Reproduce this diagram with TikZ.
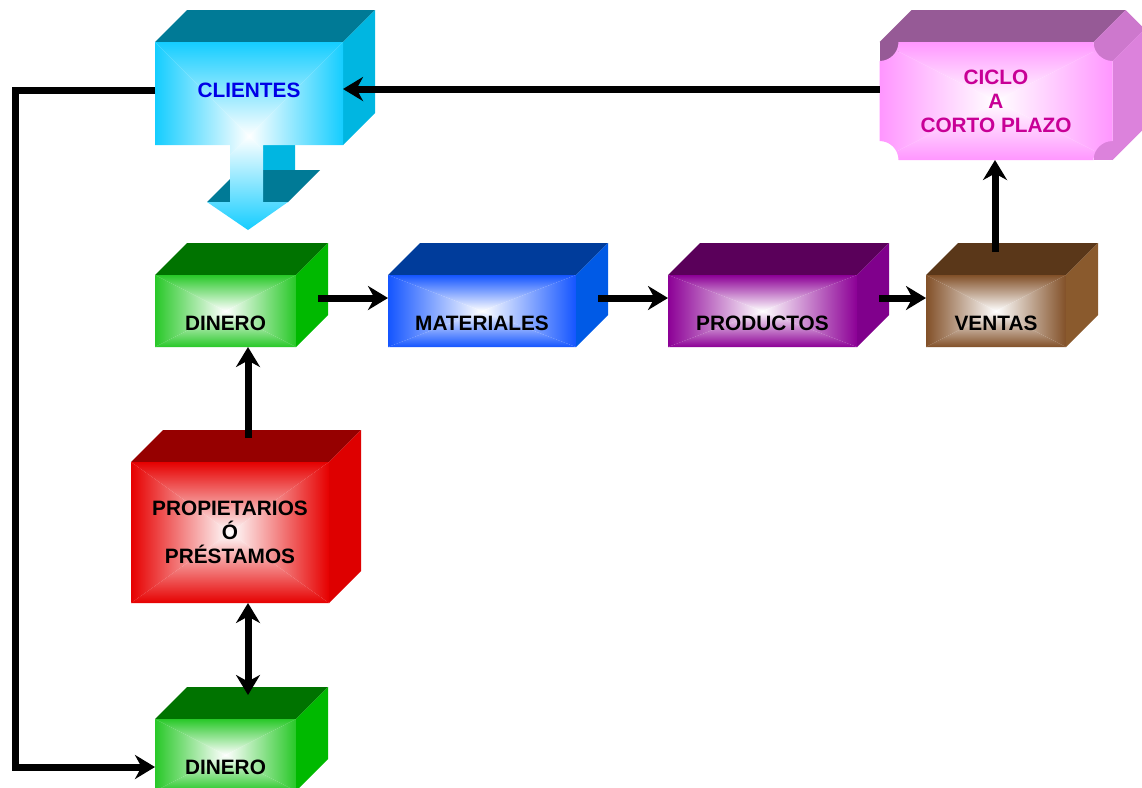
\documentclass[tikz,border=0pt]{standalone}
\usepackage{fontspec}
\setmainfont{Liberation Sans}
\usetikzlibrary{positioning}
\usetikzlibrary{calc}
\usetikzlibrary{arrows.meta}
\usetikzlibrary{backgrounds}

\definecolor{clifront}{RGB}{20,205,255}
\definecolor{clitop}{RGB}{0,122,150}
\definecolor{cliside}{RGB}{0,182,225}
\definecolor{clitext}{RGB}{0,0,230}
\definecolor{dinfront}{RGB}{40,200,40}
\definecolor{dintop}{RGB}{0,115,0}
\definecolor{dinside}{RGB}{0,185,0}
\definecolor{matfront}{RGB}{20,85,255}
\definecolor{mattop}{RGB}{0,60,155}
\definecolor{matside}{RGB}{0,90,230}
\definecolor{profront}{RGB}{140,0,150}
\definecolor{protop}{RGB}{90,0,90}
\definecolor{proside}{RGB}{128,0,140}
\definecolor{venfront}{RGB}{130,80,40}
\definecolor{ventop}{RGB}{90,55,25}
\definecolor{venside}{RGB}{138,90,45}
\definecolor{propfront}{RGB}{230,0,0}
\definecolor{proptop}{RGB}{150,0,0}
\definecolor{propside}{RGB}{222,0,0}
\definecolor{cicfront}{RGB}{255,150,255}
\definecolor{cictop}{RGB}{150,90,150}
\definecolor{cicside}{RGB}{220,130,220}
\definecolor{cicnotch}{RGB}{205,120,205}
\definecolor{cictext}{RGB}{200,0,150}

% four triangles shaded from the edges to a white centre
\newcommand\rectshade[3]{%
  \coordinate (tl) at (#1);
  \coordinate (br) at (#2);
  \coordinate (tr) at (br |- tl);
  \coordinate (bl) at (tl |- br);
  \coordinate (mm) at ($(tl)!.5!(br)$);
  \shade[top color=#3, middle color=#3!35!white, bottom color=white] (tl) -- (tr) -- (mm) -- cycle;
  \shade[bottom color=#3, middle color=#3!35!white, top color=white] (bl) -- (br) -- (mm) -- cycle;
  \shade[left color=#3, middle color=#3!35!white, right color=white] (tl) -- (bl) -- (mm) -- cycle;
  \shade[right color=#3, middle color=#3!35!white, left color=white] (tr) -- (br) -- (mm) -- cycle;
}

\begin{document}
\begin{tikzpicture}
	[x=0.5pt, y=-0.5pt,
	 cube/.style={rectangle, inner sep=0pt, outer sep=0pt, font=\bfseries\fontsize{10.4}{12}\selectfont},
	 frontface/.style={path picture={\rectshade{path picture bounding box.north west}{path picture bounding box.south east}{#1}}},
	 lowtext/.style={text height=19pt, text depth=0pt},
	 flow/.style={line width=3.5pt, -{Stealth[length=10pt,width=12pt]}},
	 flowboth/.style={line width=3.5pt, {Stealth[length=10pt,width=12pt]}-{Stealth[length=10pt,width=12pt]}}]
	\useasboundingbox (0,0) rectangle (1142,788);

	\node[cube, frontface=dinfront, lowtext, minimum width=70.5pt, minimum height=36pt] (din) at (225.5,311) {DINERO};
	\node[cube, frontface=matfront, lowtext, minimum width=94pt, minimum height=36pt, right=46pt of din] (mat) {MATERIALES};
	\node[cube, frontface=profront, lowtext, minimum width=94.5pt, minimum height=36pt, right=46pt of mat] (pro) {PRODUCTOS};
	\node[cube, frontface=venfront, lowtext, minimum width=70pt, minimum height=36pt, right=34.5pt of pro] (ven) {VENTAS};
	\node[cube, text=cictext, align=center, minimum width=116.5pt, minimum height=59pt, above=57.5pt of ven] (cic) {CICLO\\A\\CORTO PLAZO};
	\node[cube, text=clitext, text height=3.7pt, text depth=0pt, minimum width=94pt, minimum height=51.5pt, above=65pt of din, xshift=11.75pt] (cli) {CLIENTES};
	\node[cube, frontface=propfront, align=center, minimum width=99pt, minimum height=70.5pt, below=57.5pt of din, xshift=2.25pt] (prop) {PROPIETARIOS\\Ó\\PRÉSTAMOS};
	\node[cube, frontface=dinfront, lowtext, minimum width=70.5pt, minimum height=36pt, below=58pt of prop, xshift=-2.25pt] (din2) {DINERO};

	\begin{scope}[on background layer]
		% top and side faces
		\foreach \n/\t/\s in {din/dintop/dinside, din2/dintop/dinside, mat/mattop/matside, pro/protop/proside,
		                      ven/ventop/venside, prop/proptop/propside, cli/clitop/cliside}
		{
			\fill[\t] (\n.north west) -- ++(32,-32) -- ($(\n.north east)+(32,-32)$) -- (\n.north east) -- cycle;
			\fill[\s] (\n.north east) -- ++(32,-32) -- ($(\n.south east)+(32,-32)$) -- (\n.south east) -- cycle;
		}

		% arrow under CLIENTES
		\fill[cliside] ($(cli.south)+(14,0)$) -- ++(32,-32) -- ++(0,57) -- ($(cli.south)+(14,57)$) -- cycle;
		\fill[clitop] ($(cli.south)+(-42,57)$) -- ++(32,-32) -- ++(81,0) -- ($(cli.south)+(39,57)$) -- cycle;
		\begin{scope}
			\clip (cli.north west) -- (cli.north east) -- (cli.south east) -- ($(cli.south)+(14,0)$) -- ++(0,57) -- ++(25,0)
				-- ($(cli.south)+(-1,85)$) -- ($(cli.south)+(-42,57)$) -- ++(23,0) -- ($(cli.south)+(-19,0)$) -- (cli.south west) -- cycle;
			\rectshade{cli.north west}{$(cli.south east)+(0,85)$}{clifront}
		\end{scope}

		% CICLO with cut corners
		\fill[cictop] (cic.north west) -- ++(32,-32) -- ($(cic.north east)+(13,-32)$) -- ($(cic.north east)+(-19,0)$) -- cycle;
		\fill[cictop] (cic.north west) rectangle ++(19,19);
		\fill[cicnotch] ($(cic.north east)+(-19,0)$) -- ++(32,-32) -- ++(19,19) -- ($(cic.north east)+(0,19)$) -- ++(-19,0) -- cycle;
		\fill[cicside] ($(cic.north east)+(0,19)$) -- ++(32,-32) -- ($(cic.south east)+(32,-32)$) -- (cic.south east) -- cycle;
		\fill[cicside] (cic.south east) rectangle ++(-19,-19);
		\begin{scope}
			\clip ($(cic.north west)+(19,0)$) -- ($(cic.north east)+(-19,0)$)
				.. controls +(0,10.5) and +(-10.5,0) .. ($(cic.north east)+(0,19)$) -- ($(cic.south east)+(0,-19)$)
				.. controls +(-10.5,0) and +(0,-10.5) .. ($(cic.south east)+(-19,0)$) -- ($(cic.south west)+(19,0)$)
				.. controls +(0,-10.5) and +(10.5,0) .. ($(cic.south west)+(0,-19)$) -- ($(cic.north west)+(0,19)$)
				.. controls +(10.5,0) and +(0,10.5) .. ($(cic.north west)+(19,0)$) -- cycle;
			\rectshade{cic.north west}{cic.south east}{cicfront}
		\end{scope}
	\end{scope}

	\coordinate (cicout) at ($(cic.west)+(0,-12)$);
	\coordinate (dinout) at ($(din.east)+(22,-13)$);
	\coordinate (matout) at ($(mat.east)+(22,-13)$);
	\coordinate (proout) at ($(pro.east)+(22,-13)$);
	\coordinate (venout) at ($(ven.north)+(-1,-23)$);
	\coordinate (propup) at ($(prop.north)+(18,-24)$);
	\coordinate (propdown) at ($(prop.south)+(18,0)$);

	\draw[flow] (cicout) -- (cicout -| cli.east);
	\draw[flow] (dinout) -- (dinout -| mat.west);
	\draw[flow] (matout) -- (matout -| pro.west);
	\draw[flow] (proout) -- (proout -| ven.west);
	\draw[flow] (venout) -- (venout |- cic.south);
	\draw[flow] (propup) -- (propup |- din.south);
	\draw[flowboth, shorten >=12pt] (propdown) -- (propdown |- din2.north);
	\draw[flow] ($(cli.west)+(0,-3)$) -- ++(-140,0) |- ($(din2.west)+(0,12)$);
\end{tikzpicture}
\end{document}
